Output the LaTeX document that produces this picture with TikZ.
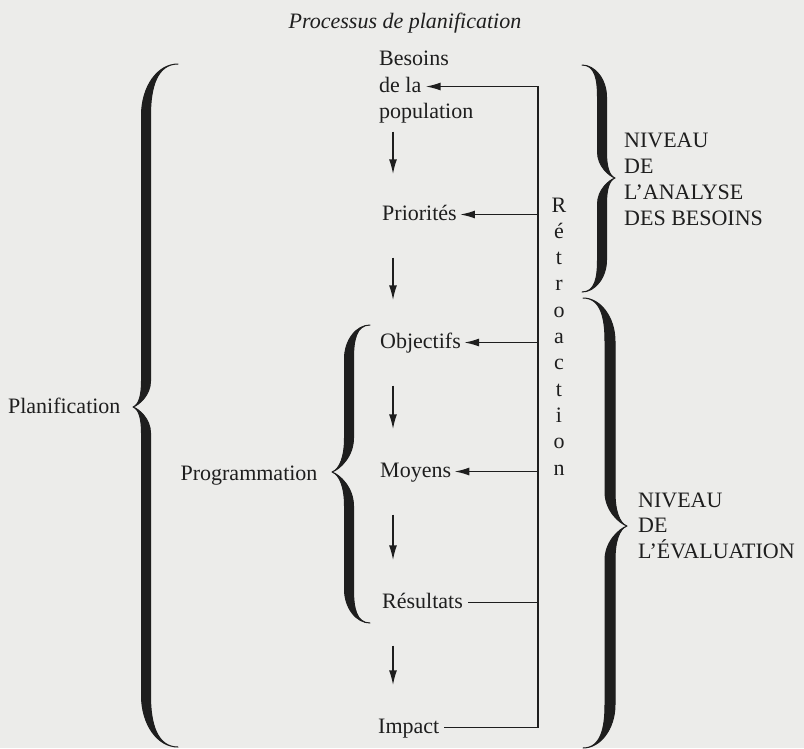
\documentclass[tikz,border=0pt]{standalone}
\usepackage{fontspec}
\setmainfont{Liberation Serif}
\usetikzlibrary{arrows.meta}

\definecolor{paper}{RGB}{236,236,234}
\definecolor{ink}{RGB}{30,30,30}

% #1 stem x, #2 top y, #3 bottom y, #4 tip y, #5 end offset, #6 tip offset, #7 half width
\newcommand{\curlybrace}[7]{%
  \pgfmathsetmacro{\bcurl}{1.6*abs(#5)}%
  \pgfmathsetmacro{\btip}{2*abs(#6)}%
  \filldraw[ink, line width=1pt, line join=round] ({#1+(#5)},#2)
    .. controls ({#1+0.35*(#5)},#2) and ({#1-#7},{#2+0.45*\bcurl}) .. ({#1-#7},{#2+\bcurl})
    -- ({#1-#7},{#4-\btip})
    .. controls ({#1-#7},{#4-0.45*\btip}) and ({#1+0.55*(#6)},{#4-0.08*\btip}) .. ({#1+(#6)},#4)
    .. controls ({#1+0.55*(#6)},{#4+0.08*\btip}) and ({#1-#7},{#4+0.45*\btip}) .. ({#1-#7},{#4+\btip})
    -- ({#1-#7},{#3-\bcurl})
    .. controls ({#1-#7},{#3-0.45*\bcurl}) and ({#1+0.35*(#5)},#3) .. ({#1+(#5)},#3)
    .. controls ({#1+0.35*(#5)},#3) and ({#1+#7},{#3-0.45*\bcurl}) .. ({#1+#7},{#3-\bcurl})
    -- ({#1+#7},{#4+\btip})
    .. controls ({#1+#7},{#4+0.45*\btip}) and ({#1+0.55*(#6)},{#4+0.08*\btip}) .. ({#1+(#6)},#4)
    .. controls ({#1+0.55*(#6)},{#4-0.08*\btip}) and ({#1+#7},{#4-0.45*\btip}) .. ({#1+#7},{#4-\btip})
    -- ({#1+#7},{#2+\bcurl})
    .. controls ({#1+#7},{#2+0.45*\bcurl}) and ({#1+0.35*(#5)},#2) .. cycle;%
}

\begin{document}
\begin{tikzpicture}[
    x=1pt, y=-1pt,
    every node/.style={text=ink, font=\fontsize{22}{26}\selectfont},
    stage/.style={inner xsep=1pt, inner ysep=1.5pt, text height=15pt, text depth=4pt, anchor=base west},
    level/.style={align=left, inner sep=0pt, anchor=north west},
    arrow/.style={draw=ink, line width=1.7pt, -{Latex[length=15pt,width=8pt]}},
    link/.style={draw=ink, line width=1.7pt},
    down/.style={arrow, shorten <=32pt, shorten >=31pt}
]
\fill[paper] (0,0) rectangle (804,748);
\useasboundingbox (0,0) rectangle (804,748);

\node[anchor=base, font=\fontsize{22}{26}\selectfont\itshape] (title) at (405,28) {Processus de planification};

% stages
\node[stage] (besoins) at (378,65) {Besoins};
\node[stage] (dela) at (378,92) {de la};
\node[stage] (popul) at (378,118) {population};
\node[stage] (priorites) at (381,220) {Priorités};
\node[stage] (objectifs) at (379,348) {Objectifs};
\node[stage] (moyens) at (379,477) {Moyens};
\node[stage] (resultats) at (381,608) {Résultats};
\node[stage] (impact) at (377,733) {Impact};

\coordinate (spine) at (393,0);
\draw[arrow, shorten <=8pt, shorten >=29pt] (popul.south -| spine) -- (priorites.north -| spine);
\draw[down] (priorites.south -| spine) -- (objectifs.north -| spine);
\draw[down] (objectifs.south -| spine) -- (moyens.north -| spine);
\draw[down] (moyens.south -| spine) -- (resultats.north -| spine);
\draw[down] (resultats.south -| spine) -- (impact.north -| spine);

% retroaction
\coordinate (fb) at (538,0);
\draw[arrow, shorten <=4pt, shorten >=3pt] (impact.east) -- (impact.east -| fb) |- (dela.east);
\draw[link, shorten <=4pt] (resultats.east) -- (resultats.east -| fb);
\foreach \n in {moyens, objectifs, priorites}
    \draw[arrow, shorten >=2pt] (\n.east -| fb) -- (\n.east);
\node[align=center, inner sep=0pt, anchor=north, font=\fontsize{22}{26.3}\selectfont] (retro) at (559,197.4)
    {R\\é\\t\\r\\o\\a\\c\\t\\i\\o\\n};

% braces
\curlybrace{146}{64}{747}{407}{32}{-13}{4.5}
\curlybrace{349}{325}{623}{472}{21}{-17}{4.5}
\curlybrace{602}{65}{292}{178}{-20}{13}{4.5}
\curlybrace{610}{298}{748}{526}{-27}{17}{5}

\node[anchor=base east] (planif) at (124,413) {Planification};
\node[anchor=base east] (progr) at (321,480) {Programmation};
\node[level] (analyse) at (624,132.4) {NIVEAU\\DE\\L'ANALYSE\\DES BESOINS};
\node[level, font=\fontsize{22}{25.5}\selectfont] (evaluation) at (638,492.4) {NIVEAU\\DE\\L'ÉVALUATION};

\end{tikzpicture}
\end{document}
